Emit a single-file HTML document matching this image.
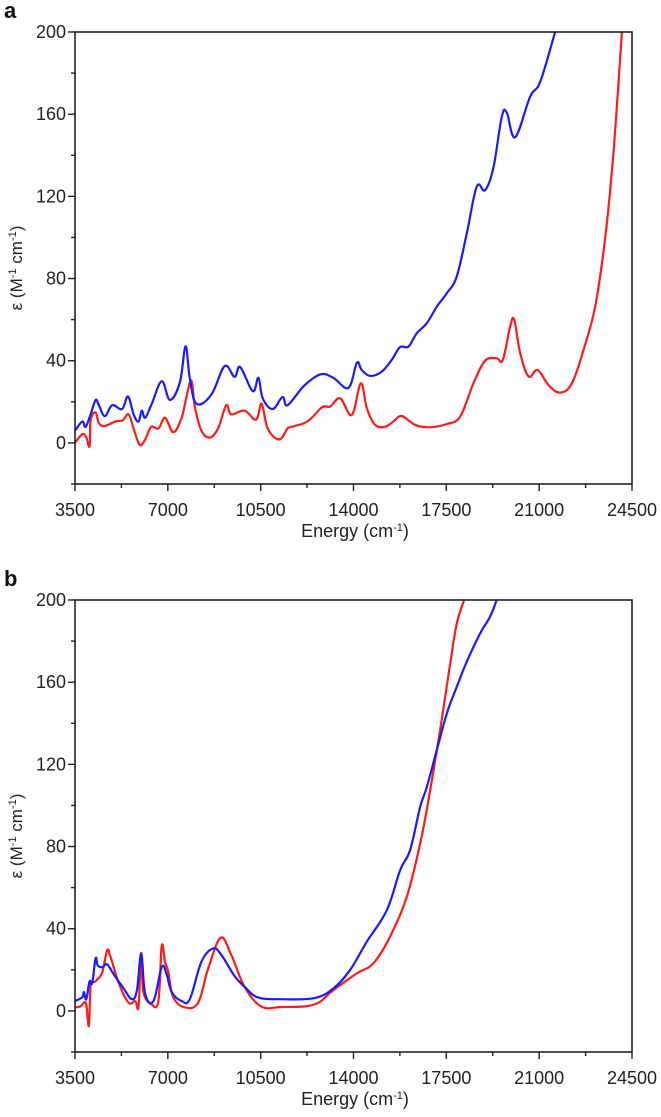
<!DOCTYPE html>
<html><head><meta charset="utf-8"><style>
html,body{margin:0;padding:0;background:#fff;}
svg{display:block;font-family:"Liberation Sans",Arial,sans-serif;}
</style></head><body>
<svg id="fig" width="661" height="1117" viewBox="0 0 661 1117" xmlns="http://www.w3.org/2000/svg"></svg>
<script>
// Shared axis config
const xTicks = [3500, 7000, 10500, 14000, 17500, 21000, 24500];
const yTicks = [0, 40, 80, 120, 160, 200];
// Panel a data (energy cm-1, epsilon)
const aBlueE = [3500,3775,3900,4087,4275,4400,4625,4900,5275,5497,5710,5895,6020,6145,6395,6770,7080,7455,7668,7830,8080,8640,9140,9515,9730,10200,10415,10575,10950,11325,11510,12135,12760,13245,13810,14125,14310,14625,15065,15440,15755,16070,16385,16760,17140,17515,17890,18270,18645,18960,19275,19590,19780,20095,20660,21040,21600];
const aBlueV = [6,10.4,7.8,13.9,20.9,18.3,13,18.3,16.5,22.6,13.9,10.4,15.7,12.2,19.1,30,20.9,29.6,47,31.3,19.1,23.5,37.4,32.2,36.9,25.2,31.7,21.7,16.5,22.3,18.3,27.8,33.4,31.6,26.8,39,35.5,32.6,34.7,40.4,46.6,46.9,53.4,58.2,66.3,72.8,81,102,124.7,123,134,158.8,160.7,148.8,168.5,175.8,200];
const aRedE = [3500,3775,3925,4050,4087,4275,4400,4625,5020,5300,5520,5710,5935,6145,6370,6645,6895,7205,7520,7705,7890,8020,8265,8580,8890,9200,9390,9890,10325,10540,10765,11200,11510,11640,12260,12820,13120,13495,13935,14275,14500,14815,15190,15505,15820,16320,16890,17515,18020,18520,18960,19400,19630,19905,20060,20285,20600,20940,21350,21790,22235,22670,23110,23490,23800,24120];
const aRedV = [0,4.3,2.6,-1.7,11,14.8,9.6,8.3,10.4,11,13.9,7,-0.9,1.7,7.8,7,12.2,5.2,12.2,22.6,30.4,17.4,6,2.6,7,18.3,13.9,15.7,11.3,19.1,7,1.7,7,7.8,10.4,17.4,17.7,21.7,13.6,29,16.9,8.8,7.9,10.4,13.1,8.8,7.6,9.2,12.8,29,40,41.2,40.4,56.6,59.9,43.6,32.3,35.5,28.2,24.5,29,45.3,66.3,100,141,200];
// Panel b data
const bBlueE = [3500,3775,3835,3925,4050,4150,4275,4360,4525,4710,4960,5335,5645,5835,5995,6145,6460,6770,6955,7145,7520,7830,8265,8700,9015,9515,9890,10390,11260,12510,13245,13875,14500,15255,15760,16135,16515,16765,17140,17520,17895,18270,18775,19150,19400];
const bBlueV = [4.8,6.6,9.2,5.7,14.4,13.5,25.6,22.1,21.3,22.7,17.8,10.9,5.7,10,27.7,8.3,4.8,21.3,17.8,9.2,4.8,5.7,23.9,30.4,27.3,17,11.8,6.6,5.7,6.2,11,20,33.7,49,68.6,78.3,99.4,109,127,144.9,157.8,170,183.8,191.9,200];
const bRedE = [3500,3710,3835,3925,4025,4090,4275,4525,4710,4835,5150,5520,5770,5895,5995,6080,6395,6645,6770,6895,7020,7205,7645,8140,8515,8990,9390,9890,10515,11260,12510,13245,14125,14750,15380,16010,16515,16890,17265,17645,17895,18170];
const bRedV = [1.7,2.2,4,3.1,-7.3,11.8,14.4,18.7,29.4,26.5,13.5,4,4.8,2.2,28.2,9.2,3.1,4.8,31.7,23.9,18.7,6.6,1.7,4,20.4,35.6,27.3,11.8,2.2,1.9,3.1,10.2,18.3,23.2,36.2,55.6,81.6,107.5,136.7,169.2,188.7,200];

const NS = "http://www.w3.org/2000/svg";
const svg = document.getElementById('fig');
function mk(tag, attrs, parent){const e=document.createElementNS(NS,tag);for(const k in attrs)e.setAttribute(k,attrs[k]);(parent||svg).appendChild(e);return e;}

function smoothPath(pts){
  let d='M'+pts[0][0].toFixed(1)+','+pts[0][1].toFixed(1);
  for(let i=0;i<pts.length-1;i++){
    const p0=pts[Math.max(0,i-1)],p1=pts[i],p2=pts[i+1],p3=pts[Math.min(pts.length-1,i+2)];
    const t=0.18;
    const c1x=p1[0]+(p2[0]-p0[0])*t, c1y=p1[1]+(p2[1]-p0[1])*t;
    const c2x=p2[0]-(p3[0]-p1[0])*t, c2y=p2[1]-(p3[1]-p1[1])*t;
    d+='C'+c1x.toFixed(1)+','+c1y.toFixed(1)+' '+c2x.toFixed(1)+','+c2y.toFixed(1)+' '+p2[0].toFixed(1)+','+p2[1].toFixed(1);
  }
  return d;
}

function panel(letter, off, blueE, blueV, redE, redV){
  const L=75, R=632, T=32+off, B=484+off;
  const xs = v => L + (v-3500)/(24500-3500)*(R-L);
  const ys = v => T + (200-v)/(220)*(B-T);
  const g = mk('g',{});
  
  
  const cid='clip'+letter;
  const cp=mk('clipPath',{id:cid},g); mk('rect',{x:L,y:T,width:R-L,height:B-T},cp);
  function series(E,V,color,name){
    const pts=E.map((e,i)=>[xs(e),ys(V[i])]);
    const p=mk('path',{d:smoothPath(pts),fill:'none',stroke:color,'stroke-width':2.2,'stroke-linejoin':'round','clip-path':'url(#'+cid+')'},g);
    
    
  }
  series(redE,redV,'#ff1a1a','red-series-'+letter);
  series(blueE,blueV,'#1a1aff','blue-series-'+letter);
  const fr=mk('rect',{x:L,y:T,width:R-L,height:B-T,fill:'none',stroke:'#222','stroke-width':1.6},g);
  
  
  for(let v=-20; v<=200; v+=20){
    const major = yTicks.indexOf(v)>=0;
    mk('line',{x1:L,x2:L-(major?7:4),y1:ys(v),y2:ys(v),stroke:'#222','stroke-width':1.4},g);
    if(major){const t=mk('text',{x:L-9,y:ys(v)+6,'text-anchor':'end','font-size':18,fill:'#222'},g);t.textContent=v;
      
      }
  }
  for(let v=3500; v<=24500; v+=1750){
    const major = xTicks.indexOf(v)>=0;
    mk('line',{x1:xs(v),x2:xs(v),y1:B,y2:B+(major?7:4),stroke:'#222','stroke-width':1.4},g);
    if(major){const t=mk('text',{x:xs(v),y:B+32,'text-anchor':'middle','font-size':18,fill:'#222'},g);t.textContent=v;
      
      }
  }
  const xt=mk('text',{x:355,y:B+53,'text-anchor':'middle','font-size':18,fill:'#222'},g);
  xt.innerHTML='Energy (cm<tspan dy="-6" font-size="11">-1</tspan><tspan dy="6">)</tspan>';
  
  
  const cy=(T+B)/2+10;
  const yt=mk('text',{x:0,y:0,'text-anchor':'middle','font-size':17,fill:'#222',transform:'translate(22,'+cy+') rotate(-90)'},g);
  yt.innerHTML='ε (M<tspan dy="-6" font-size="11">-1</tspan><tspan dy="6"> cm</tspan><tspan dy="-6" font-size="11">-1</tspan><tspan dy="6">)</tspan>';
  
  
  const lt=mk('text',{x:4,y:18+off,'font-size':22,'font-weight':'bold',fill:'#111'},g);
  lt.textContent=letter;
  
  
}
panel('a',0,aBlueE,aBlueV,aRedE,aRedV);
panel('b',568,bBlueE,bBlueV,bRedE,bRedV);
</script>
</body></html>
